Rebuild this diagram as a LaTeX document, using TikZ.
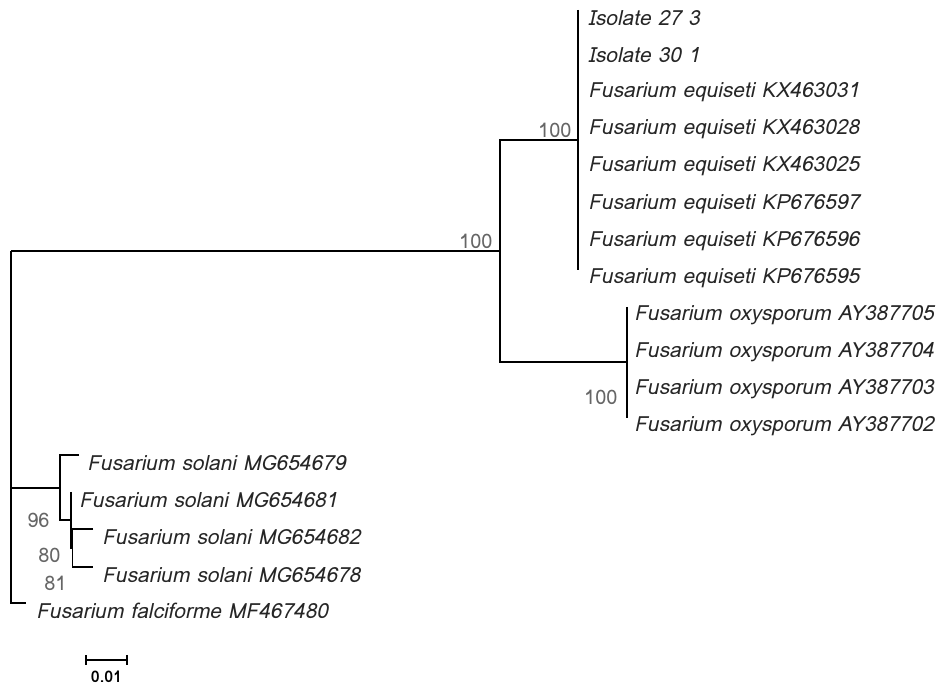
\documentclass[tikz,border=0pt]{standalone}
\usepackage{fontspec}
\setmainfont{Loma}
\usetikzlibrary{positioning}
\usetikzlibrary{arrows.meta}

\tikzset{
  branch/.style={line width=0.8pt},
  taxon/.style={inner sep=0pt, text=black!85, font=\itshape\fontsize{10.45}{12}\selectfont},
  boot/.style={inner sep=0pt, text=black!60, font=\fontsize{10}{12}\selectfont},
}

\begin{document}
\begin{tikzpicture}[x=0.5pt,y=-0.5pt]
\useasboundingbox (0,0) rectangle (938,688);

% internal nodes
\coordinate (r1) at (11,251);
\coordinate (r2) at (11,488);
\coordinate (r3) at (11,603);
\coordinate (nA) at (500,251);
\coordinate (nB) at (578,140);
\coordinate (nC) at (627,362);
\coordinate (nD) at (60,488);
\coordinate (nE) at (71,520);
\coordinate (nF) at (72.5,548);

% equiseti clade
\foreach \lab [count=\i from 0] in {Isolate 27 3, Isolate 30 1,
    Fusarium equiseti KX463031, Fusarium equiseti KX463028,
    Fusarium equiseti KX463025, Fusarium equiseti KP676597,
    Fusarium equiseti KP676596, Fusarium equiseti KP676595}{
  \coordinate (eq\i) at (578,10+37.14*\i);
  \node[taxon, right=5pt of eq\i, yshift=-4pt] (teq\i) {\lab};
}
% oxysporum clade
\foreach \lab [count=\i from 0] in {AY387705, AY387704, AY387703, AY387702}{
  \coordinate (ox\i) at (627,307+37*\i);
  \node[taxon, right=3.5pt of ox\i, yshift=-4pt] (tox\i) {Fusarium oxysporum \lab};
}
% solani clade
\coordinate (so0) at (79,455);
\coordinate (so1) at (71,492);
\coordinate (so2) at (93,529);
\coordinate (so3) at (93,567);
\coordinate (fa) at (26,603);
\node[taxon, right=4pt of so0, yshift=-4pt] (tso0) {Fusarium solani MG654679};
\node[taxon, right=4pt of so1, yshift=-4pt] (tso1) {Fusarium solani MG654681};
\node[taxon, right=4.5pt of so2, yshift=-4pt] (tso2) {Fusarium solani MG654682};
\node[taxon, right=4.5pt of so3, yshift=-4pt] (tso3) {Fusarium solani MG654678};
\node[taxon, right=5pt of fa, yshift=-4pt] (tfa) {Fusarium falciforme MF467480};

% branches
\draw[branch] (r1) -- (r3) -- (fa);
\draw[branch] (r1) -- (nA);
\draw[branch] (nB) -| (nA) |- (nC);
\draw[branch] (eq0) -- (eq7);
\draw[branch] (ox0) -- (ox3);
\draw[branch] (r2) -- (nD);
\draw[branch] (so0) -| (nD) |- (nE);
\draw[branch] (so1) |- (nF);
\draw[branch] (so2) -| (nF) |- (so3);

% bootstrap values
\node[boot, left=3.5pt of nA, yshift=5pt] (bA) {100};
\node[boot, left=3pt of nB, yshift=5pt] (bB) {100};
\node[boot, left=4.5pt of nC, yshift=-17.5pt] (bC) {100};
\node[boot, left=5pt of nD, yshift=-16pt] (bD) {96};
\node[boot, left=5pt of nE, yshift=-17.5pt] (bE) {80};
\node[boot, left=2.75pt of nF, yshift=-17.5pt] (bF) {81};

% scale bar
\coordinate (sb1) at (85,660);
\coordinate (sb2) at (128,660);
\draw[branch, {Bar[width=5pt]}-{Bar[width=5pt]}] (sb1) -- (sb2)
  node[midway, below=5pt, inner sep=0pt, font=\bfseries\fontsize{8}{9}\selectfont] (sbl) {0.01};
\end{tikzpicture}
\end{document}
